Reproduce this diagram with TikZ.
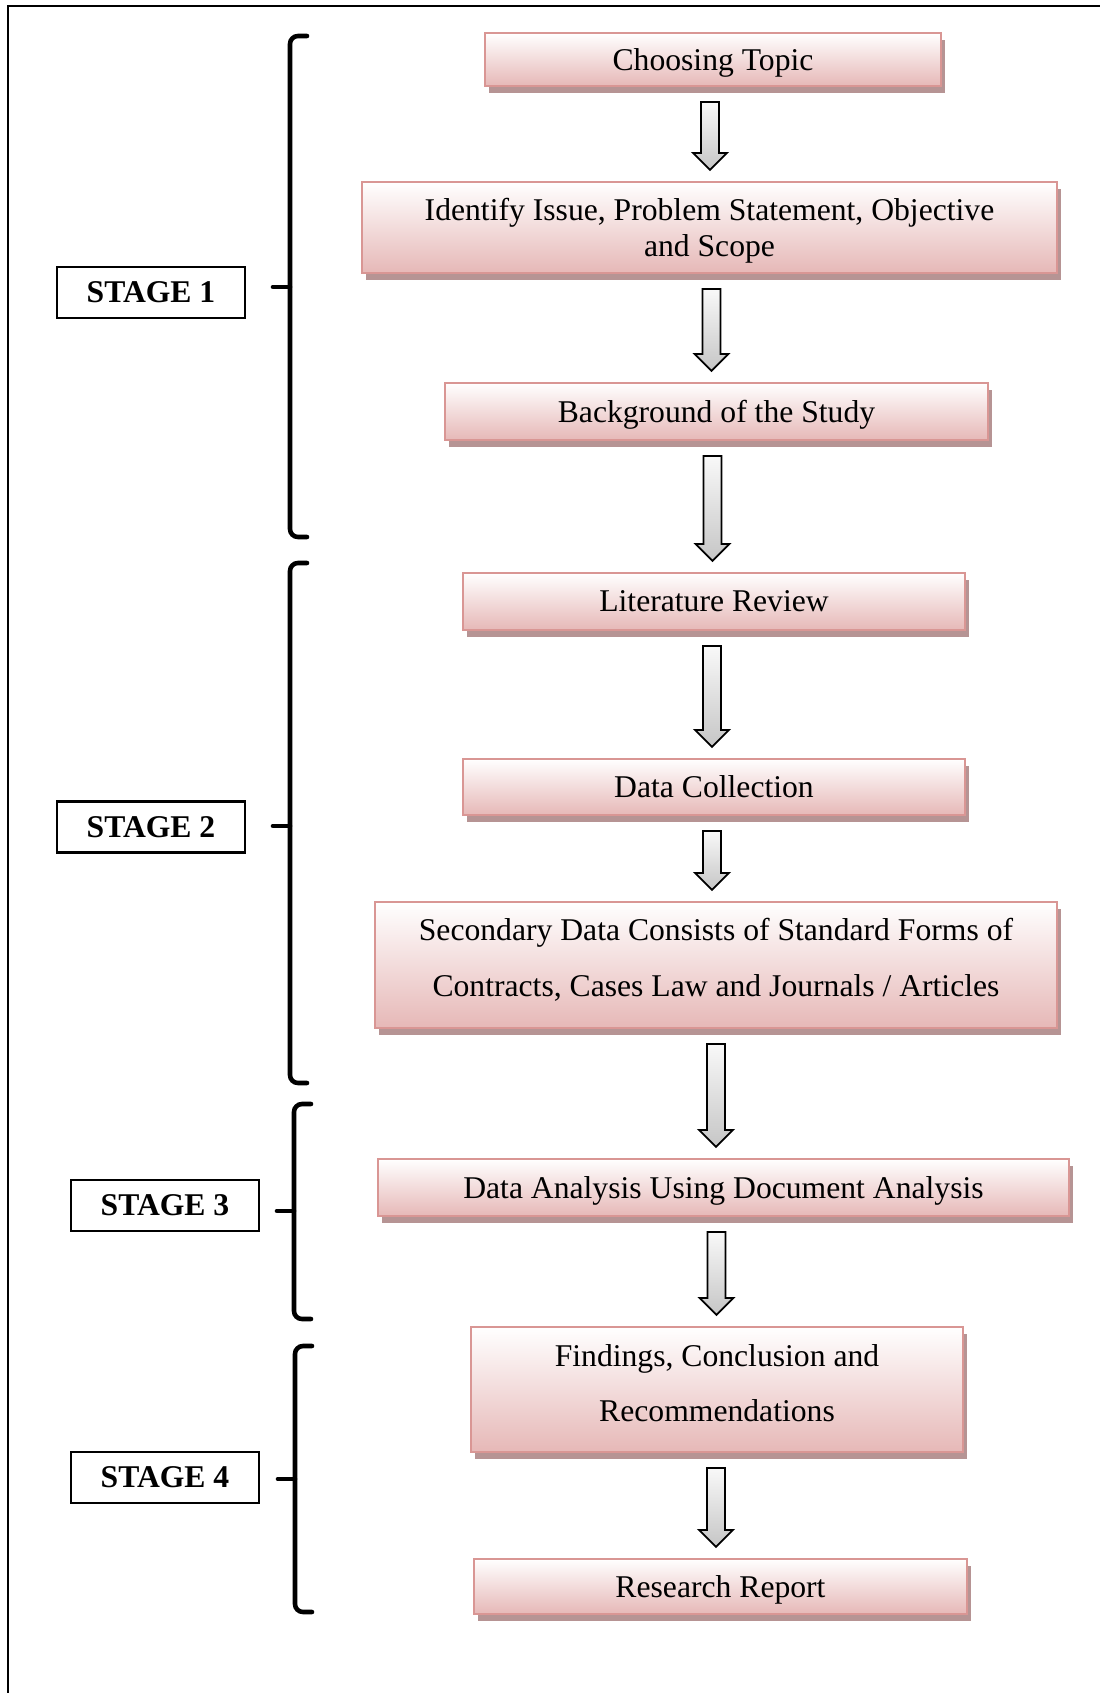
\documentclass[tikz,border=0pt]{standalone}
\usepackage{fontspec}
\setmainfont{Liberation Serif}
\usetikzlibrary{calc,shadows,positioning}
\definecolor{boxline}{RGB}{217,150,148}
\definecolor{boxpink}{RGB}{230,184,183}
\definecolor{boxshade}{RGB}{182,148,148}

\begin{document}
\begin{tikzpicture}[x=0.01cm,y=-0.01cm,
	stepbox/.style={draw=boxline, line width=0.6pt, top color=white, bottom color=boxpink, drop shadow={shadow xshift=0.04cm, shadow yshift=-0.07cm, fill=boxshade, opacity=1}, align=center, inner sep=0pt, text depth=0pt, font=\fontsize{9}{10.4}\selectfont},
	stagebox/.style={draw, line width=0.6pt, minimum width=1.88cm, minimum height=0.51cm, inner sep=0pt, font=\fontsize{9}{11}\selectfont\bfseries},
	bracket/.style={line width=1.3pt, rounded corners=0.08cm, line cap=round},
	blockarr/.style={draw, line width=0.5pt, top color=gray!5, bottom color=gray!45, line join=miter}]
	\useasboundingbox (0,0) rectangle (1100,1693);
	\draw[line width=0.6pt] (8,1693) -- (8,6) -- (1100,6);
	
	\node[stepbox, minimum width=4.56cm, minimum height=0.53cm] (topic) at (713,59.5) {Choosing Topic};
	\node[stepbox, minimum width=6.95cm, minimum height=0.91cm] (issue) at (709.5,227.5) {Identify Issue, Problem Statement, Objective\\and Scope};
	\node[stepbox, minimum width=5.43cm, minimum height=0.57cm] (backgr) at (716.5,411.5) {Background of the Study};
	\node[stepbox, minimum width=5.02cm, minimum height=0.57cm] (litrev) at (714,601.5) {Literature Review};
	\node[stepbox, minimum width=5.02cm, minimum height=0.56cm] (datacol) at (714,787) {Data Collection};
	\node[stepbox, minimum width=6.82cm, minimum height=1.26cm, text depth=4.5pt, font=\fontsize{9}{15.9}\selectfont] (secdata) at (716,965) {Secondary Data Consists of Standard Forms of\\Contracts, Cases Law and Journals / Articles};
	\node[stepbox, minimum width=6.91cm, minimum height=0.57cm] (analysis) at (723.5,1187.5) {Data Analysis Using Document Analysis};
	\node[stepbox, minimum width=4.92cm, minimum height=1.25cm, text depth=3.7pt, font=\fontsize{9}{15.6}\selectfont] (findings) at (717,1389.5) {Findings, Conclusion and\\Recommendations};
	\node[stepbox, minimum width=4.93cm, minimum height=0.55cm] (report) at (720.5,1586.5) {Research Report};
	
	\foreach \a/\b/\dx in {topic/issue/-3,issue/backgr/2,backgr/litrev/-4,litrev/datacol/-2,datacol/secdata/-2,secdata/analysis/0,analysis/findings/-7,findings/report/-1}
	\draw[blockarr] ($(\a.south)+(\dx-9,15)$) -- ($(\a.south |- \b.north)+(\dx-9,-28)$) -- ++(-8,0) -- ($(\a.south |- \b.north)+(\dx,-11)$) -- ($(\a.south |- \b.north)+(\dx+17,-28)$) -- ++(-8,0) -- ($(\a.south)+(\dx+9,15)$) -- cycle;
	
	\node[stagebox] (stage1) at (151,292.5) {STAGE 1};
	\node[stagebox] (stage2) at (151,827) {STAGE 2};
	\node[stagebox] (stage3) at (165,1205.5) {STAGE 3};
	\node[stagebox] (stage4) at (165,1477.5) {STAGE 4};
	
	\foreach \x/\top/\mid/\bot in {290/36/287/537,290/563/826/1083,294/1104/1211/1319,295/1346/1479/1612}{
		\draw[bracket] (\x+17,\top) -- (\x,\top) -- (\x,\bot) -- (\x+17,\bot);
		\draw[bracket] (\x,\mid) -- (\x-17,\mid);
	}
\end{tikzpicture}
\end{document}
